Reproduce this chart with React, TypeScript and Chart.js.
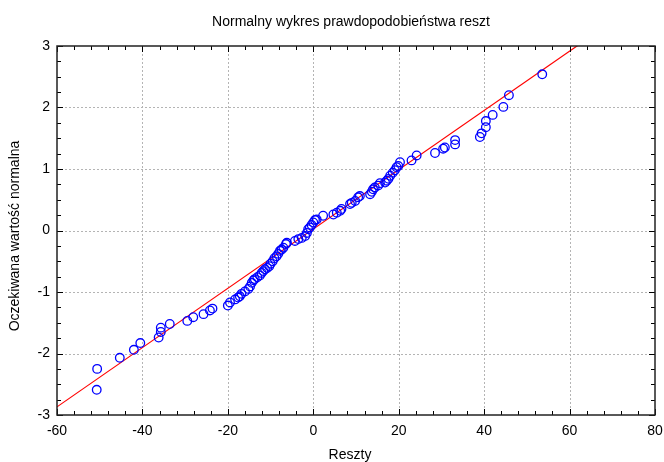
import React, { useEffect, useRef } from "react";
import { Chart, registerables } from "chart.js";

Chart.register(...registerables);

const titleText = "Normalny wykres prawdopodobieństwa reszt";
const xTitle = "Reszty";
const yTitle = "Oczekiwana wartość normalna";

const xMin = -60;
const xMax = 80;
const xStep = 20;
const yMin = -3;
const yMax = 3;
const yStep = 1;

// residuals (x) and expected normal values (y)
const residuals = [
  -50.7, -50.6, -45.3, -42.0, -40.5, -36.2, -35.7, -35.7, -33.6, -29.5,
  -28.1, -25.7, -24.2, -23.6, -20.0, -19.5, -18.3, -17.6, -17.2, -16.8,
  -16.0, -15.2, -14.8, -14.4, -14.0, -13.7, -13.1, -12.5, -12.1, -11.7,
  -11.3, -10.8, -10.3, -10.0, -9.5, -9.1, -8.6, -8.2, -7.8, -7.4,
  -7.0, -6.4, -6.2, -4.3, -3.5, -2.7, -1.9, -1.5, -1.2, -0.8,
  -0.4, 0.0, 0.4, 0.8, 2.3, 4.7, 5.5, 6.3, 6.6, 8.6,
  9.0, 9.8, 10.5, 10.9, 13.3, 13.7, 14.0, 14.4, 15.2, 15.6,
  16.8, 17.2, 17.6, 18.0, 18.6, 19.1, 19.5, 19.9, 20.3, 23.0,
  24.2, 28.5, 30.4, 30.8, 33.2, 33.2, 39.0, 39.4, 40.4, 40.4,
  42.0, 44.5, 45.8, 53.6,
];
const expectedNormal = [
  -2.59, -2.25, -2.07, -1.94, -1.83, -1.74, -1.65, -1.58, -1.52, -1.47,
  -1.41, -1.36, -1.30, -1.27, -1.22, -1.17, -1.12, -1.09, -1.07, -1.03,
  -0.99, -0.95, -0.91, -0.85, -0.81, -0.79, -0.76, -0.73, -0.69, -0.66,
  -0.63, -0.61, -0.58, -0.54, -0.50, -0.45, -0.42, -0.38, -0.33, -0.31,
  -0.28, -0.22, -0.20, -0.17, -0.14, -0.12, -0.09, -0.04, 0.02, 0.05,
  0.09, 0.13, 0.17, 0.18, 0.24, 0.26, 0.29, 0.32, 0.35, 0.43,
  0.45, 0.48, 0.54, 0.56, 0.59, 0.63, 0.67, 0.70, 0.73, 0.77,
  0.78, 0.81, 0.84, 0.89, 0.94, 0.98, 1.03, 1.05, 1.11, 1.14,
  1.22, 1.26, 1.33, 1.35, 1.40, 1.47, 1.52, 1.58, 1.68, 1.78,
  1.88, 2.01, 2.20, 2.54,
];

// fitted line: expected = intercept + slope * residual
const fitIntercept = 0.024;
const fitSlope = 0.0482;
const fitX = [xMin, xMax];

const FONT = "'Liberation Sans', Arial, sans-serif";

const framePlugin = {
  id: "framePlugin",
  beforeDatasetsDraw(chart: any) {
    const { ctx, chartArea } = chart;
    const { left, right, top, bottom } = chartArea;
    const xs = chart.scales.x;
    const ys = chart.scales.y;
    ctx.save();
    ctx.strokeStyle = "#b4b4b4";
    ctx.lineWidth = 1;
    ctx.setLineDash([2, 2]);
    for (let v = xMin + xStep; v < xMax; v += xStep) {
      const px = Math.round(xs.getPixelForValue(v)) + 0.5;
      ctx.beginPath();
      ctx.moveTo(px, top);
      ctx.lineTo(px, bottom);
      ctx.stroke();
    }
    for (let v = yMin + yStep; v < yMax; v += yStep) {
      const py = Math.round(ys.getPixelForValue(v)) + 0.5;
      ctx.beginPath();
      ctx.moveTo(left, py);
      ctx.lineTo(right, py);
      ctx.stroke();
    }
    ctx.restore();
  },
  afterDatasetsDraw(chart: any) {
    const { ctx, chartArea } = chart;
    const { left, right, top, bottom } = chartArea;
    const xs = chart.scales.x;
    const ys = chart.scales.y;
    ctx.save();
    ctx.strokeStyle = "#000";
    ctx.lineWidth = 1;
    ctx.setLineDash([]);
    const xMinor = xStep / 5;
    for (let v = xMin; v <= xMax + 1e-9; v += xMinor) {
      const isMajor = Math.abs(Math.round(v / xStep) * xStep - v) < 1e-6;
      const len = isMajor ? 6 : 4;
      const px = Math.round(xs.getPixelForValue(v)) + 0.5;
      ctx.beginPath();
      ctx.moveTo(px, bottom);
      ctx.lineTo(px, bottom - len);
      ctx.moveTo(px, top);
      ctx.lineTo(px, top + len);
      ctx.stroke();
    }
    const yMinor = yStep / 4;
    for (let v = yMin; v <= yMax + 1e-9; v += yMinor) {
      const isMajor = Math.abs(Math.round(v / yStep) * yStep - v) < 1e-6;
      const len = isMajor ? 6 : 4;
      const py = Math.round(ys.getPixelForValue(v)) + 0.5;
      ctx.beginPath();
      ctx.moveTo(left, py);
      ctx.lineTo(left + len, py);
      ctx.moveTo(right, py);
      ctx.lineTo(right - len, py);
      ctx.stroke();
    }
    ctx.lineWidth = 1.5;
    ctx.strokeStyle = "#222";
    ctx.strokeRect(left, top, right - left, bottom - top);
    ctx.restore();
  },
  afterDraw(chart: any) {
    const { ctx } = chart;
    ctx.save();
    ctx.fillStyle = "#000";
    ctx.font = `14px ${FONT}`;
    ctx.textAlign = "center";
    ctx.textBaseline = "alphabetic";
    ctx.fillText(titleText, 351, 25.5);
    ctx.fillText(xTitle, 350, 459);
    ctx.translate(15, 236);
    ctx.rotate(-Math.PI / 2);
    ctx.textBaseline = "middle";
    ctx.fillText(yTitle, 0, 0);
    ctx.restore();
  },
};

export default function App() {
  const ref = useRef<HTMLCanvasElement | null>(null);
  useEffect(() => {
    if (!ref.current) return;
    const points = residuals.map((x, i) => ({ x, y: expectedNormal[i] }));
    const line = fitX.map((x) => ({ x, y: fitIntercept + fitSlope * x }));
    const chart = new Chart(ref.current, {
      type: "scatter",
      data: {
        datasets: [
          {
            type: "line",
            data: line,
            borderColor: "#ff0000",
            borderWidth: 1.2,
            pointRadius: 0,
            fill: false,
            order: 2,
          } as any,
          {
            data: points,
            pointRadius: 4.3,
            pointBorderWidth: 1.3,
            pointBackgroundColor: "rgba(255,255,255,0)",
            pointBorderColor: "#0000ff",
            order: 1,
          },
        ],
      },
      options: {
        responsive: false,
        animation: false,
        layout: { padding: { left: 0, right: 9, top: 46, bottom: 0 } },
        plugins: {
          legend: { display: false },
          title: { display: false },
          tooltip: { enabled: false },
        },
        scales: {
          x: {
            type: "linear",
            min: xMin,
            max: xMax,
            ticks: {
              stepSize: xStep,
              color: "#000",
              padding: 8,
              maxRotation: 0,
              font: { family: FONT, size: 14 },
            },
            grid: { display: false, drawTicks: false },
            border: { display: false },
            afterFit: (s: any) => {
              s.height = 47;
              s.paddingLeft = 0;
              s.paddingRight = 0;
            },
          },
          y: {
            type: "linear",
            min: yMin,
            max: yMax,
            ticks: {
              stepSize: yStep,
              color: "#000",
              padding: 7,
              font: { family: FONT, size: 14 },
            },
            grid: { display: false, drawTicks: false },
            border: { display: false },
            afterFit: (s: any) => {
              s.width = 57;
              s.paddingTop = 0;
              s.paddingBottom = 0;
            },
          },
        },
      },
      plugins: [framePlugin],
    });
    return () => chart.destroy();
  }, []);
  return (
    <div style={{ position: "fixed", left: 0, top: 0, width: 664, height: 462, background: "#fff" }}>
      <canvas ref={ref} width={664} height={462} style={{ width: 664, height: 462 }} />
    </div>
  );
}
